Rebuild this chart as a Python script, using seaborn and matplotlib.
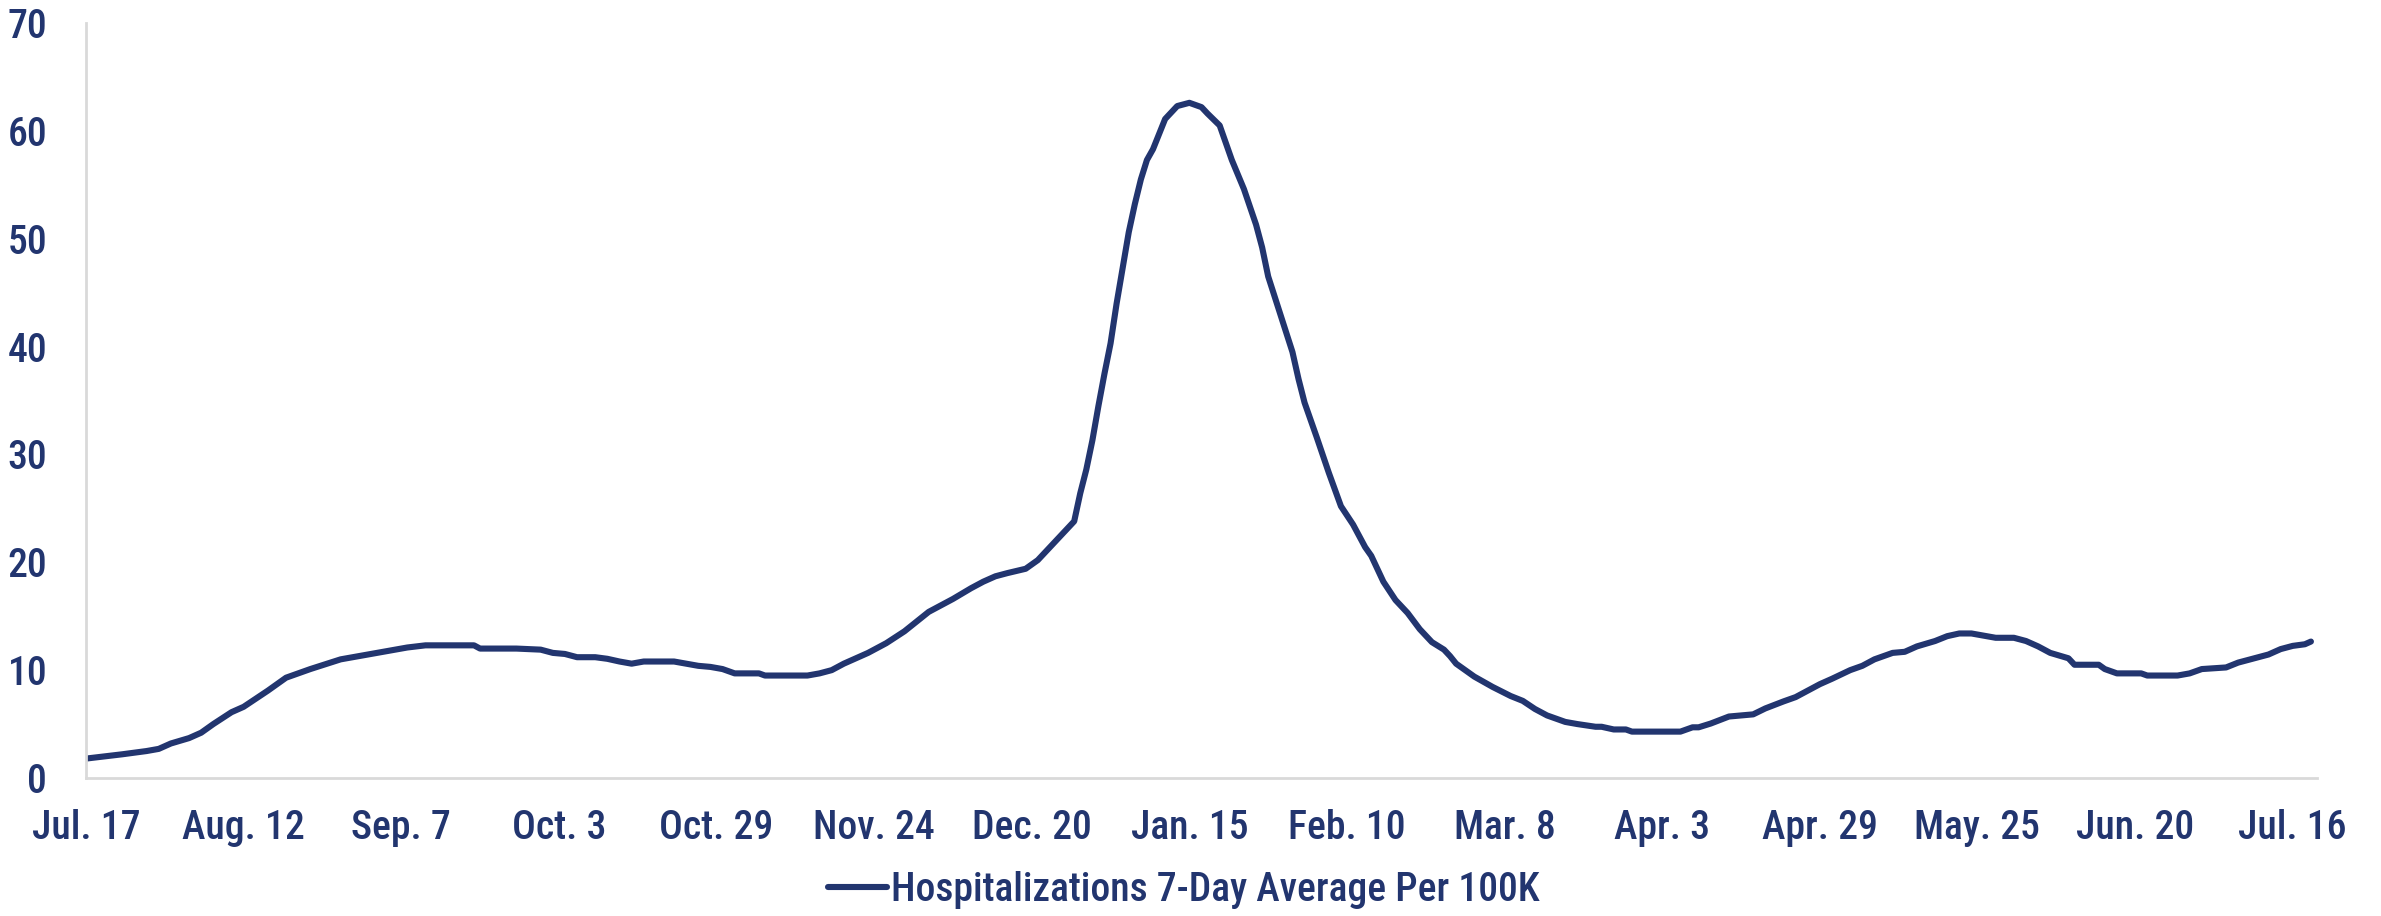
import matplotlib
matplotlib.use("Agg")
import matplotlib.pyplot as plt
import seaborn as sns
import pandas as pd
from matplotlib import font_manager

# ---- data ----
start_date = "2021-07-17"
day_offsets = [0, 3, 6, 10, 12, 14, 17, 19, 21, 24, 26, 30, 33, 37, 42, 47, 51, 53, 56, 64,
               65, 71, 75, 77, 79, 81, 84, 86, 88, 90, 92, 97, 99, 101, 103, 105, 107, 111,
               112, 119, 121, 123, 125, 129, 132, 135, 137, 139, 143, 146, 148, 150, 152, 155,
               157, 159, 161, 162, 163, 164, 165, 166, 167, 168, 169, 170, 171, 172, 173, 174,
               175, 176, 178, 180, 182, 184, 185, 187, 188, 189, 191, 193, 194, 195, 197, 199,
               200, 201, 203, 205, 207, 209, 211, 212, 213, 214, 216, 218, 220, 222, 224, 225,
               226, 229, 232, 235, 237, 239, 241, 244, 246, 249, 250, 252, 254, 255, 263, 265,
               266, 268, 271, 275, 277, 280, 282, 284, 286, 288, 291, 293, 295, 298, 300, 302,
               305, 307, 309, 311, 313, 315, 318, 320, 322, 324, 327, 328, 332, 333, 335, 339,
               340, 345, 347, 349, 353, 355, 357, 360, 362, 364, 366, 367]
hosp_7day_per_100k = [1.8, 2.0, 2.2, 2.5, 2.7, 3.2, 3.7, 4.2, 5.0, 6.1, 6.6, 8.1, 9.3, 10.1, 11.0, 11.5, 11.9, 12.1, 12.3, 12.3,
                      12.0, 12.0, 11.9, 11.6, 11.5, 11.2, 11.2, 11.05, 10.8, 10.6, 10.8, 10.8, 10.6, 10.4, 10.3, 10.1, 9.7, 9.7,
                      9.5, 9.5, 9.7, 10.0, 10.6, 11.6, 12.5, 13.6, 14.5, 15.4, 16.6, 17.6, 18.2, 18.7, 19.0, 19.4,
                      20.2, 21.4, 22.6, 23.2, 23.8, 26.4, 28.6, 31.3, 34.5, 37.5, 40.3, 44.0, 47.3, 50.6, 53.2, 55.5,
                      57.3, 58.3, 61.1, 62.3, 62.6, 62.2, 61.6, 60.5, 58.9, 57.3, 54.6, 51.3, 49.2, 46.5, 43.0, 39.5,
                      37.0, 34.8, 31.6, 28.3, 25.2, 23.5, 21.4, 20.6, 19.4, 18.2, 16.5, 15.3, 13.8, 12.6, 11.9, 11.3,
                      10.6, 9.4, 8.45, 7.6, 7.15, 6.4, 5.8, 5.2, 5.0, 4.75, 4.75, 4.5, 4.5, 4.3, 4.3, 4.7,
                      4.7, 5.05, 5.7, 5.9, 6.45, 7.1, 7.5, 8.1, 8.7, 9.2, 10.0, 10.4, 11.0, 11.6, 11.7, 12.2,
                      12.7, 13.15, 13.4, 13.4, 13.2, 13.0, 13.0, 12.7, 12.2, 11.6, 11.1, 10.5, 10.5, 10.1, 9.7, 9.7,
                      9.5, 9.5, 9.7, 10.1, 10.25, 10.7, 11.0, 11.45, 11.95, 12.25, 12.4, 12.65]
tick_offsets = [0, 26, 52, 78, 104, 130, 156, 182, 208, 234, 260, 286, 312, 338, 364]
tick_labels = ["Jul. 17", "Aug. 12", "Sep. 7", "Oct. 3", "Oct. 29", "Nov. 24", "Dec. 20",
               "Jan. 15", "Feb. 10", "Mar. 8", "Apr. 3", "Apr. 29", "May. 25", "Jun. 20", "Jul. 16"]
y_ticks = [0, 10, 20, 30, 40, 50, 60, 70]
series_name = "Hospitalizations 7-Day Average Per 100K"

df = pd.DataFrame({"day": day_offsets, "value": hosp_7day_per_100k})

NAVY = "#22356f"
GRID = "#d9d9d9"

sns.set_style("white")
avail = {f.name for f in font_manager.fontManager.ttflist}
fams = [f for f in ["Roboto Condensed", "Liberation Sans Narrow", "DejaVu Sans"] if f in avail]
plt.rcParams["font.family"] = fams

FS = 28.5
WEIGHT = "medium"

fig = plt.figure(figsize=(23.81, 9.16), dpi=100)
ax = fig.add_axes([86 / 2381, 1 - 778 / 916, (2317 - 86) / 2381, (778 - 23) / 916])

sns.lineplot(data=df, x="day", y="value", ax=ax, color=NAVY, linewidth=4.4,
             label=series_name, legend=False)
for ln in ax.lines:
    ln.set_solid_capstyle("round")
    ln.set_solid_joinstyle("round")

ax.set_xlim(0, 368)
ax.set_ylim(0, 70)
ax.set_xticks(tick_offsets)
ax.set_xticklabels(tick_labels)
ax.set_yticks(y_ticks)
ax.set_xlabel("")
ax.set_ylabel("")

for s in ["top", "right"]:
    ax.spines[s].set_visible(False)
for s in ["left", "bottom"]:
    ax.spines[s].set_color(GRID)
    ax.spines[s].set_linewidth(2)

ax.tick_params(axis="both", which="major", length=10, width=2, color=GRID,
               labelcolor=NAVY, labelsize=FS, direction="out")
ax.tick_params(axis="x", pad=12)
ax.tick_params(axis="y", pad=18)
for lab in ax.get_xticklabels() + ax.get_yticklabels():
    lab.set_fontweight(WEIGHT)

handles, labels = ax.get_legend_handles_labels()
leg = fig.legend(handles, labels, loc="center", bbox_to_anchor=(1184 / 2381, 1 - 890 / 916),
                 frameon=False, handlelength=1.5, handletextpad=0.1,
                 prop={"size": FS, "weight": WEIGHT})
for t in leg.get_texts():
    t.set_color(NAVY)

fig.savefig("out.png", dpi=100)
